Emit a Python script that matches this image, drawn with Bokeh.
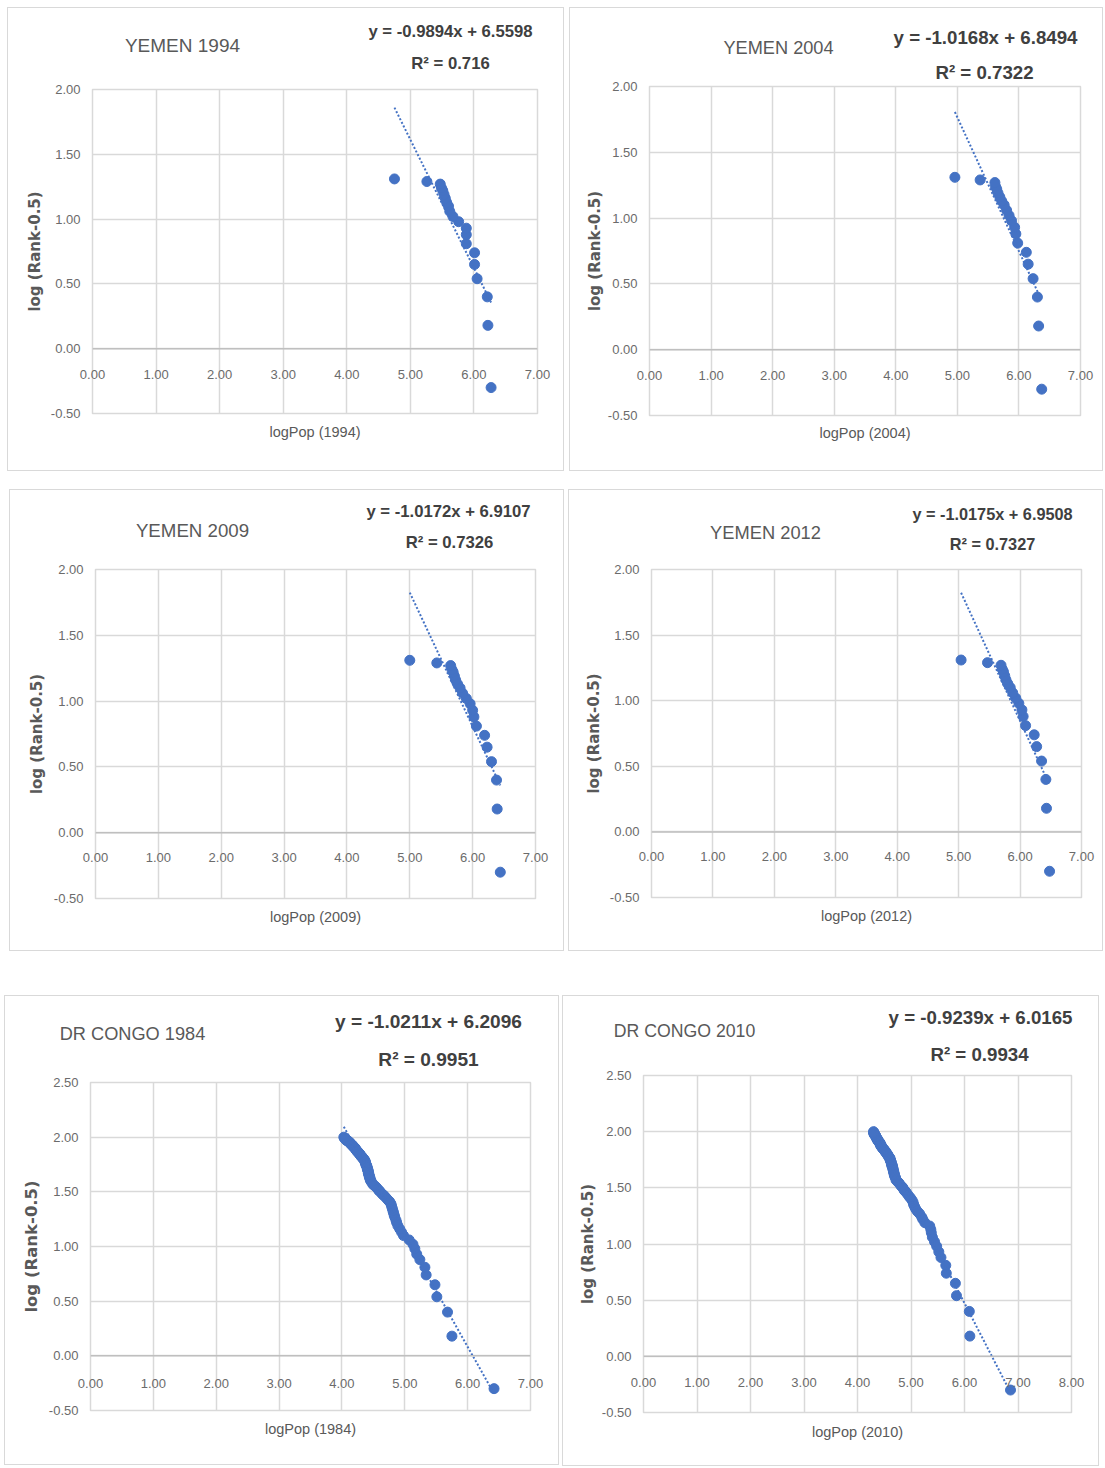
from bokeh.plotting import figure
from bokeh.models import Range1d, FixedTicker, PrintfTickFormatter, Label, Spacer, Span
from bokeh.layouts import column, row
from bokeh.embed import file_html
from bokeh.resources import INLINE

# ---------------- data ----------------
yemen_log_rank = [-0.30, 0.18, 0.40, 0.54, 0.65, 0.74, 0.81, 0.88, 0.93, 0.98, 1.02,
                  1.06, 1.10, 1.13, 1.16, 1.19, 1.22, 1.24, 1.27, 1.29, 1.31]

yemen_1994_logpop = [6.27, 6.22, 6.21, 6.05, 6.01, 6.01, 5.88, 5.88, 5.88, 5.76, 5.67,
                     5.62, 5.60, 5.57, 5.55, 5.53, 5.51, 5.49, 5.47, 5.26, 4.75]
yemen_2004_logpop = [6.37, 6.32, 6.30, 6.23, 6.15, 6.12, 5.98, 5.95, 5.93, 5.88, 5.84,
                     5.80, 5.76, 5.72, 5.69, 5.66, 5.64, 5.62, 5.61, 5.37, 4.96]
yemen_2009_logpop = [6.44, 6.39, 6.38, 6.30, 6.23, 6.19, 6.06, 6.02, 6.00, 5.96, 5.90,
                     5.84, 5.80, 5.76, 5.73, 5.71, 5.69, 5.67, 5.65, 5.43, 5.00]
yemen_2012_logpop = [6.48, 6.43, 6.42, 6.35, 6.27, 6.23, 6.09, 6.05, 6.03, 5.98, 5.93,
                     5.88, 5.84, 5.80, 5.77, 5.75, 5.73, 5.71, 5.69, 5.47, 5.04]

congo_log_rank = [-0.30, 0.18, 0.40, 0.54, 0.65, 0.74, 0.81, 0.88, 0.93, 0.98,
                  1.02, 1.06, 1.10, 1.13, 1.16, 1.19, 1.22, 1.24, 1.27, 1.29,
                  1.31, 1.33, 1.35, 1.37, 1.39, 1.41, 1.42, 1.44, 1.46, 1.47,
                  1.48, 1.50, 1.51, 1.52, 1.54, 1.55, 1.56, 1.57, 1.59, 1.60,
                  1.61, 1.62, 1.63, 1.64, 1.65, 1.66, 1.67, 1.68, 1.69, 1.70,
                  1.70, 1.71, 1.72, 1.73, 1.74, 1.74, 1.75, 1.76, 1.77, 1.77,
                  1.78, 1.79, 1.80, 1.80, 1.81, 1.82, 1.82, 1.83, 1.84, 1.84,
                  1.85, 1.85, 1.86, 1.87, 1.87, 1.88, 1.88, 1.89, 1.90, 1.90,
                  1.91, 1.91, 1.92, 1.92, 1.93, 1.93, 1.94, 1.94, 1.95, 1.95,
                  1.96, 1.96, 1.97, 1.97, 1.97, 1.98, 1.98, 1.99, 1.99, 2.00]

congo_1984_logpop = [6.42, 5.75, 5.68, 5.51, 5.48, 5.34, 5.32, 5.24, 5.19, 5.16,
                     5.13, 5.07, 4.98, 4.95, 4.92, 4.89, 4.87, 4.86, 4.84, 4.83,
                     4.82, 4.81, 4.80, 4.79, 4.78, 4.76, 4.74, 4.71, 4.68, 4.66,
                     4.64, 4.61, 4.59, 4.58, 4.55, 4.53, 4.51, 4.49, 4.47, 4.46,
                     4.45, 4.45, 4.44, 4.44, 4.43, 4.43, 4.42, 4.42, 4.42, 4.41,
                     4.41, 4.41, 4.40, 4.40, 4.39, 4.39, 4.38, 4.38, 4.37, 4.37,
                     4.37, 4.36, 4.35, 4.34, 4.33, 4.32, 4.31, 4.30, 4.29, 4.29,
                     4.28, 4.27, 4.26, 4.25, 4.24, 4.23, 4.23, 4.22, 4.21, 4.20,
                     4.19, 4.19, 4.18, 4.17, 4.16, 4.15, 4.14, 4.14, 4.13, 4.12,
                     4.11, 4.10, 4.09, 4.08, 4.07, 4.06, 4.06, 4.05, 4.04, 4.03]

congo_2010_logpop = [6.86, 6.10, 6.09, 5.85, 5.83, 5.66, 5.65, 5.56, 5.52, 5.48,
                     5.44, 5.40, 5.38, 5.37, 5.35, 5.26, 5.22, 5.20, 5.16, 5.12,
                     5.09, 5.07, 5.05, 5.04, 5.02, 4.99, 4.97, 4.94, 4.91, 4.89,
                     4.87, 4.85, 4.83, 4.81, 4.78, 4.76, 4.74, 4.72, 4.71, 4.70,
                     4.69, 4.69, 4.68, 4.68, 4.67, 4.67, 4.66, 4.66, 4.65, 4.65,
                     4.64, 4.64, 4.63, 4.63, 4.62, 4.62, 4.61, 4.61, 4.60, 4.59,
                     4.58, 4.57, 4.56, 4.55, 4.54, 4.53, 4.52, 4.51, 4.50, 4.49,
                     4.48, 4.47, 4.46, 4.45, 4.44, 4.44, 4.43, 4.43, 4.42, 4.41,
                     4.40, 4.40, 4.39, 4.38, 4.38, 4.37, 4.36, 4.36, 4.35, 4.35,
                     4.34, 4.34, 4.33, 4.33, 4.32, 4.32, 4.31, 4.31, 4.30, 4.30]

titles = ["YEMEN 1994", "YEMEN 2004", "YEMEN 2009", "YEMEN 2012", "DR CONGO 1984", "DR CONGO 2010"]
x_labels = ["logPop (1994)", "logPop (2004)", "logPop (2009)", "logPop (2012)", "logPop (1984)", "logPop (2010)"]
y_label = "log (Rank-0.5)"
slopes = [-0.9894, -1.0168, -1.0172, -1.0175, -1.0211, -0.9239]
intercepts = [6.5598, 6.8494, 6.9107, 6.9508, 6.2096, 6.0165]
r_squared = ["0.716", "0.7322", "0.7326", "0.7327", "0.9951", "0.9934"]

yemen_x_ticks = [0, 1, 2, 3, 4, 5, 6, 7]
yemen_y_ticks = [-0.5, 0.0, 0.5, 1.0, 1.5, 2.0]
congo84_x_ticks = [0, 1, 2, 3, 4, 5, 6, 7]
congo10_x_ticks = [0, 1, 2, 3, 4, 5, 6, 7, 8]
congo_y_ticks = [-0.5, 0.0, 0.5, 1.0, 1.5, 2.0, 2.5]

# ---------------- styling / layout ----------------
FONT = "Liberation Sans"
BLUE = "#4472C4"
GRID = "#d9d9d9"
TXT = "#595959"
TICK_TXT = "#6b6b6b"
TICK_PX = 13
TICK_BOX = 14.5

layout_cfg = [
    dict(size=(559, 466), frame=(86, 83, 531, 407), origin=(6, 6),
         title=(182, 45), eq1=(450, 31), eq2=(450, 63), titlesize=19, eqsize=16.7, eq2side="above",
         xgap=21, xlabgap=13, ylabdist=55, ylabsize=15),
    dict(size=(536, 466), frame=(81, 80, 512, 409), origin=(568, 6),
         title=(778, 47), eq1=(985, 37), eq2=(984, 72), titlesize=18.2, eqsize=18.7, eq2side="below",
         xgap=21, xlabgap=12, ylabdist=52, ylabsize=15),
    dict(size=(557, 464), frame=(87, 81, 527, 410), origin=(8, 488),
         title=(192, 530), eq1=(448, 511), eq2=(449, 542), titlesize=18.7, eqsize=16.7, eq2side="below",
         xgap=20, xlabgap=12, ylabdist=56, ylabsize=15),
    dict(size=(537, 464), frame=(84, 81, 514, 409), origin=(567, 488),
         title=(765, 532), eq1=(992, 513), eq2=(992, 543), titlesize=18.3, eqsize=16.3, eq2side="above",
         xgap=20, xlabgap=12, ylabdist=55, ylabsize=15),
    dict(size=(557, 472), frame=(87, 88, 527, 416), origin=(3, 994),
         title=(132, 1033), eq1=(428, 1021), eq2=(428, 1059), titlesize=18.2, eqsize=19.1, eq2side="above",
         xgap=23, xlabgap=12, ylabdist=57, ylabsize=16.5),
    dict(size=(539, 473), frame=(82, 81, 510, 418), origin=(561, 994),
         title=(684, 1030), eq1=(980, 1017), eq2=(979, 1054), titlesize=17.7, eqsize=18.7, eq2side="below",
         xgap=21, xlabgap=13, ylabdist=53, ylabsize=15),
]

series_x = [yemen_1994_logpop, yemen_2004_logpop, yemen_2009_logpop, yemen_2012_logpop,
            congo_1984_logpop, congo_2010_logpop]
series_y = [yemen_log_rank, yemen_log_rank, yemen_log_rank, yemen_log_rank,
            congo_log_rank, congo_log_rank]
x_ticks_all = [yemen_x_ticks, yemen_x_ticks, yemen_x_ticks, yemen_x_ticks, congo84_x_ticks, congo10_x_ticks]
y_ticks_all = [yemen_y_ticks, yemen_y_ticks, yemen_y_ticks, yemen_y_ticks, congo_y_ticks, congo_y_ticks]


def make_panel(i):
    cfg = layout_cfg[i]
    W, H = cfg["size"]
    fl, ft, fr, fb = cfg["frame"]
    ox, oy = cfg["origin"]
    xt, yt = x_ticks_all[i], y_ticks_all[i]
    x0, x1 = xt[0], xt[-1]
    y0, y1 = yt[0], yt[-1]

    p = figure(width=W, height=H, output_backend="svg", toolbar_location=None,
               x_range=Range1d(x0, x1), y_range=Range1d(y0, y1),
               min_border_left=fl, min_border_top=ft,
               min_border_right=W - fr, min_border_bottom=H - fb)
    p.frame_align = False
    p.background_fill_color = "white"
    p.border_fill_color = None
    p.outline_line_color = GRID
    p.outline_line_width = 1.5
    p.styles = {"outline": "1.5px solid #d9d9d9", "outline-offset": "-2px",
                "background-color": "white"}

    p.xgrid.ticker = FixedTicker(ticks=xt)
    p.ygrid.ticker = FixedTicker(ticks=yt)
    for g in (p.xgrid, p.ygrid):
        g.grid_line_color = GRID
        g.grid_line_width = 1.5

    # vertical axis: labels only
    ya = p.yaxis[0]
    ya.ticker = FixedTicker(ticks=yt)
    ya.formatter = PrintfTickFormatter(format="%.2f")
    ya.axis_line_color = None
    ya.major_tick_line_color = None
    ya.minor_tick_line_color = None
    ya.major_tick_out = 0
    ya.major_tick_in = 0
    ya.minor_tick_out = 0
    ya.major_label_standoff = 12
    ya.major_label_text_font = FONT
    ya.major_label_text_font_size = f"{TICK_PX}px"
    ya.major_label_text_color = TICK_TXT
    ya.axis_label = y_label
    ya.axis_label_text_font = "DejaVu Sans"
    ya.axis_label_text_font_style = "bold"
    ya.axis_label_text_font_size = f"{cfg['ylabsize']}px"
    ya.axis_label_text_color = TXT
    ya.axis_label_standoff = max(0, int(round(cfg["ylabdist"] - 0.58 * cfg["ylabsize"] - 42)))

    # horizontal axis: labels lifted up to sit under the y = 0 line
    yzero_from_bottom = (0 - y0) / (y1 - y0) * (fb - ft)
    tick_standoff = -int(round(yzero_from_bottom - cfg["xgap"]))
    xa = p.xaxis[0]
    xa.ticker = FixedTicker(ticks=xt)
    xa.formatter = PrintfTickFormatter(format="%.2f")
    xa.axis_line_color = None
    xa.major_tick_line_color = None
    xa.minor_tick_line_color = None
    xa.major_tick_out = 0
    xa.major_tick_in = 0
    xa.minor_tick_out = 0
    xa.major_label_standoff = tick_standoff
    xa.major_label_text_font = FONT
    xa.major_label_text_font_size = f"{TICK_PX}px"
    xa.major_label_text_color = TICK_TXT
    xa.axis_label = x_labels[i]
    xa.axis_label_text_font = FONT
    xa.axis_label_text_font_style = "normal"
    xa.axis_label_text_font_size = "14.5px"
    xa.axis_label_text_color = TXT
    xa.axis_label_standoff = int(round(cfg["xlabgap"] - (TICK_BOX + tick_standoff)))

    p.add_layout(Span(location=0, dimension="width", line_color="#bfbfbf", line_width=1.5))

    xs, ys = series_x[i], series_y[i]
    p.scatter(xs, ys, size=10, color=BLUE, line_color=BLUE)

    lx = [min(xs), max(xs)]
    ly = [slopes[i] * v + intercepts[i] for v in lx]
    p.line(lx, ly, line_color=BLUE, line_width=2, line_dash="2 2")

    def to_data(px, py):
        rx, ry = px - ox, py - oy
        dx = x0 + (rx - fl) / (fr - fl) * (x1 - x0)
        dy = y1 - (ry - ft) / (fb - ft) * (y1 - y0)
        return dx, dy

    tx, ty = to_data(*cfg["title"])
    p.add_layout(Label(x=tx, y=ty, text=titles[i], text_align="center", text_baseline="middle",
                       text_font=FONT, text_font_size=f"{cfg['titlesize']}px", text_color=TXT), "above")
    sign = "-" if intercepts[i] < 0 else "+"
    eq_text = f"y = {slopes[i]:.4f}x {sign} {abs(intercepts[i]):.4f}"
    e1x, e1y = to_data(*cfg["eq1"])
    p.add_layout(Label(x=e1x, y=e1y, text=eq_text, text_align="center", text_baseline="middle",
                       text_font=FONT, text_font_size=f"{cfg['eqsize']}px",
                       text_font_style="bold", text_color="#404040"), "above")
    e2x, e2y = to_data(*cfg["eq2"])
    p.add_layout(Label(x=e2x, y=e2y, text=f"R\u00b2 = {r_squared[i]}", text_align="center",
                       text_baseline="middle", text_font=FONT,
                       text_font_size=f"{cfg['eqsize']}px", text_font_style="bold",
                       text_color="#404040"), cfg["eq2side"])
    return p


panels = [make_panel(i) for i in range(6)]

page = column(
    Spacer(width=10, height=6),
    row(Spacer(width=6, height=466), panels[0], Spacer(width=3, height=466), panels[1]),
    Spacer(width=10, height=16),
    row(Spacer(width=8, height=464), panels[2], Spacer(width=2, height=464), panels[3]),
    Spacer(width=10, height=42),
    row(Spacer(width=3, height=473), panels[4], Spacer(width=1, height=473), panels[5]),
)

open("out.html", "w").write(file_html(page, INLINE))
